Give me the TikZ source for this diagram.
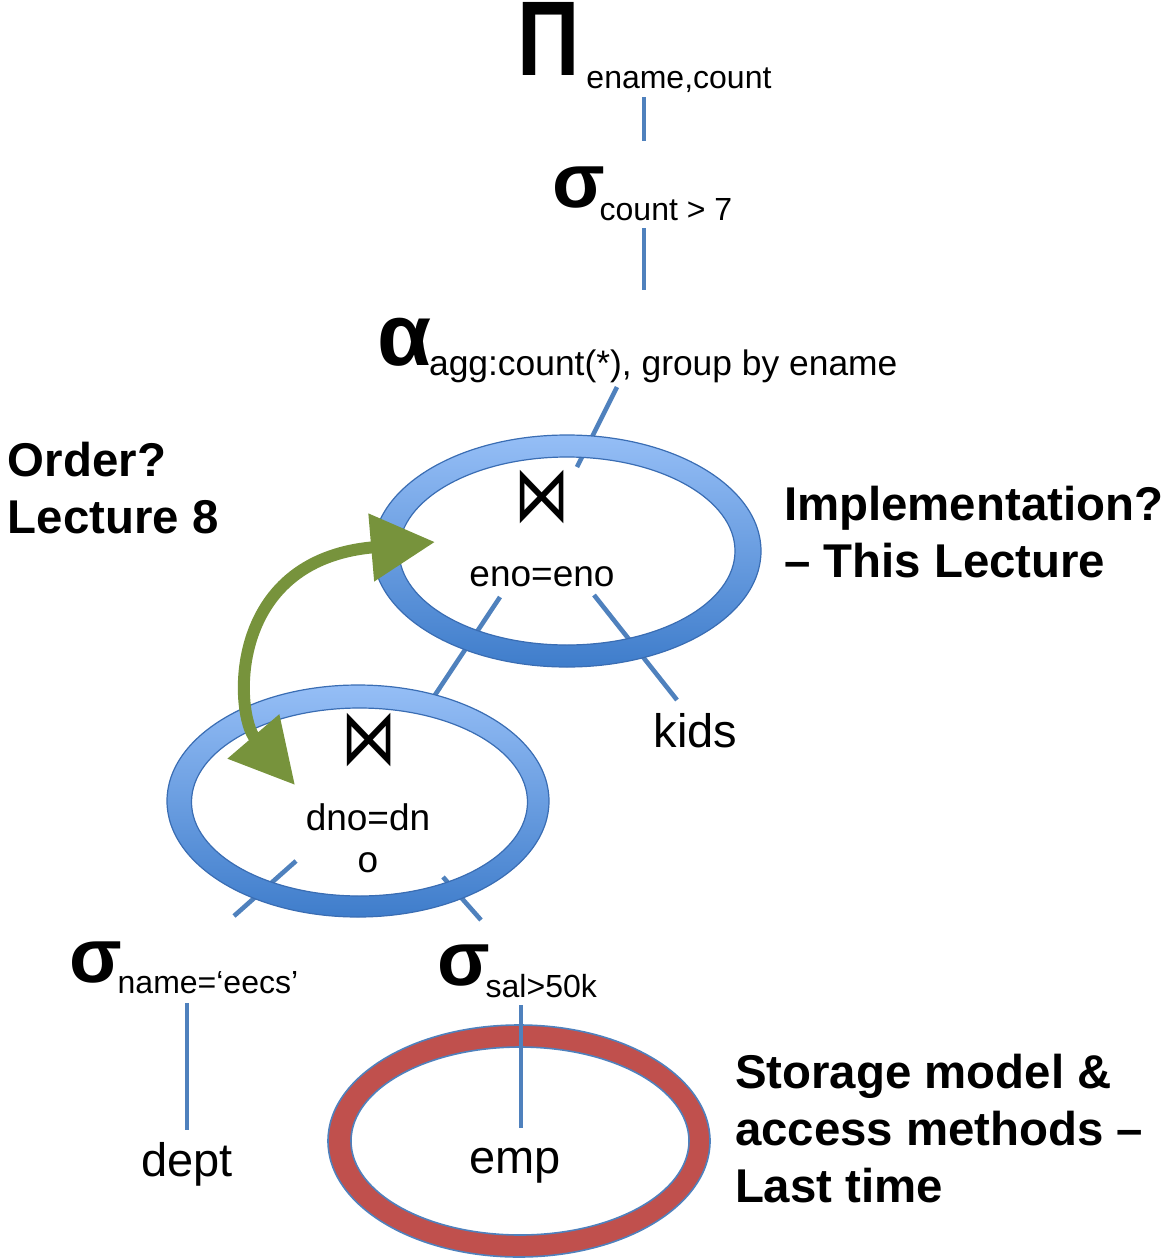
\documentclass[tikz,border=0pt]{standalone}
\usepackage{fontspec}
\setmainfont{Liberation Sans}
\newfontfamily\djv{DejaVu Sans}
\usetikzlibrary{arrows.meta}
\definecolor{linkblue}{HTML}{4F81BD}
\definecolor{ringtop}{HTML}{95BEF6}
\definecolor{ringbot}{HTML}{3F7DCB}
\definecolor{ringedge}{HTML}{3A6DB3}
\definecolor{ringred}{HTML}{C0504D}
\definecolor{arrowgreen}{HTML}{77933C}
\newcommand{\subf}{\fontsize{16}{16}\selectfont}
\newcommand{\subfbig}{\fontsize{17.7}{17.7}\selectfont}
\begin{document}
\begin{tikzpicture}[x=0.5pt,y=-0.5pt,
  link/.style={draw=linkblue, line width=2.3pt},
  lbl/.style={inner sep=0pt, outer sep=0pt},
  ringshade/.style={even odd rule, top color=ringtop, bottom color=ringbot},
  ringline/.style={draw=ringedge, line width=0.6pt},
  bigtxt/.style={lbl, font=\bfseries\fontsize{23.7}{28.5}\selectfont, align=left, anchor=base west},
  reltxt/.style={lbl, font=\fontsize{23.5}{23.5}\selectfont, anchor=base},
  condtxt/.style={lbl, font=\fontsize{18.5}{21}\selectfont, anchor=base, align=center},
  tie/.style={lbl, font=\djv\fontsize{30}{30}\selectfont},
  greenarr/.style={draw=arrowgreen, line width=6pt,
     {Triangle[length=32pt,width=32.5pt]}-{Triangle[length=32pt,width=32.5pt]}}]
\useasboundingbox (0,0) rectangle (1171,1258);

% operator labels
\node[lbl, anchor=base west] (pi) at (517,75)
  {\smash{\bfseries\fontsize{47}{47}\selectfont\scalebox{0.92}[1.13]{Π}}\hspace{3.5pt}\raisebox{-6.5pt}{\subf ename,count}};
\node[lbl, anchor=base west] (sigtop) at (552,207)
  {{\bfseries\fontsize{38.5}{38.5}\selectfont σ}\hspace{-2.5pt}\raisebox{-6.5pt}{\subf count > 7}};
\node[lbl, anchor=base west] (agg) at (377,365)
  {{\bfseries\fontsize{44}{44}\selectfont α}\hspace{-1pt}\raisebox{-5pt}{\subfbig agg:count(*), group by ename}};
\node[lbl, anchor=base west] (sigdept) at (69,982)
  {{\bfseries\fontsize{38.5}{38.5}\selectfont σ}\hspace{-2pt}\raisebox{-5.5pt}{\subf name=‘eecs’}};
\node[lbl, anchor=base west] (sigemp) at (437,985)
  {{\bfseries\fontsize{38.5}{38.5}\selectfont σ}\hspace{-2pt}\raisebox{-6pt}{\subf sal>50k}};

% connector end points
\coordinate (a1) at (644,97);  \coordinate (a2) at (644,141);
\coordinate (b1) at (644,228); \coordinate (b2) at (644,290);
\coordinate (c1) at (617,387); \coordinate (c2) at (577,467);
\coordinate (d1) at (500,597); \coordinate (d2) at (435,695);
\coordinate (e1) at (594,595); \coordinate (e2) at (677,700);
\coordinate (f1) at (296,861); \coordinate (f2) at (234,916);
\coordinate (g1) at (443,877); \coordinate (g2) at (481,920);
\coordinate (h1) at (187,1003); \coordinate (h2) at (187,1130);
\coordinate (k1) at (521,1005); \coordinate (k2) at (521,1128);

\draw[link] (a1) -- (a2);
\draw[link] (b1) -- (b2);
\draw[link] (c1) -- (c2);
\draw[link] (d1) -- (d2);
\draw[link] (e1) -- (e2);
\draw[link] (f1) -- (f2);
\draw[link] (g1) -- (g2);
\draw[link] (h1) -- (h2);

% blue rings
\shade[ringshade] (567,551) ellipse [x radius=97pt, y radius=58pt]
                  (567,551) ellipse [x radius=84pt, y radius=47pt];
\draw[ringline] (567,551) ellipse [x radius=97pt, y radius=58pt]
                (567,551) ellipse [x radius=84pt, y radius=47pt];
\shade[ringshade] (358,801) ellipse [x radius=95.5pt, y radius=58pt]
                  (359.5,802) ellipse [x radius=84pt, y radius=47pt];
\draw[ringline] (358,801) ellipse [x radius=95.5pt, y radius=58pt]
                (359.5,802) ellipse [x radius=84pt, y radius=47pt];

% red ring
\fill[ringred, even odd rule] (519,1141) ellipse [x radius=95.5pt, y radius=58pt]
                  (520,1141) ellipse [x radius=84.5pt, y radius=47pt];
\draw[draw=linkblue, line width=0.8pt] (519,1141) ellipse [x radius=95.5pt, y radius=58pt]
                (520,1141) ellipse [x radius=84.5pt, y radius=47pt];
\draw[link] (k1) -- (k2);

% join symbols and conditions
\node[tie] (join1) at (542.5,497.5) {\scalebox{0.92}[1.3]{⋈}};
\node[condtxt] (cond1) at (542,586) {eno=eno};
\node[tie] (join2) at (369,740) {\scalebox{0.92}[1.3]{⋈}};
\node[condtxt] (cond2) at (368,872) {dno=dn\\o};

% relations
\node[reltxt] (kids) at (695.5,747) {kids};
\node[reltxt] (dept) at (187,1176) {dept};
\node[reltxt] (emp) at (515,1173) {emp};

% green arrow
\coordinate (gtop) at (435,542);
\coordinate (glow) at (295,785);
\draw[greenarr] (glow) .. controls (235,715) and (225,560) .. (gtop);

% side notes
\node[bigtxt] (order) at (8,533) {Order?\\Lecture 8};
\node[bigtxt] (impl) at (784,577) {Implementation?\\– This Lecture};
\node[bigtxt] (store) at (735,1202) {Storage model \&\\access methods –\\Last time};
\end{tikzpicture}
\end{document}
